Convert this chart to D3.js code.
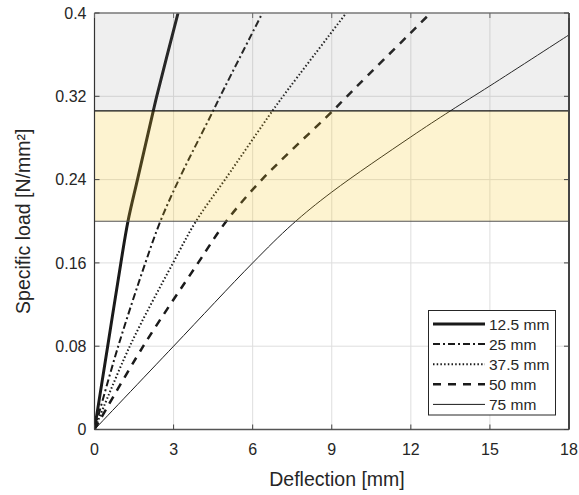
<!DOCTYPE html>
<html>
<head>
<meta charset="utf-8">
<script src="https://cdn.jsdelivr.net/npm/d3@7"></script>
<style>
  html, body { margin: 0; padding: 0; background: #fff; }
  svg { display: block; }
  text { font-family: "Liberation Sans", Arial, Helvetica, sans-serif; fill: #262626; }
</style>
</head>
<body>
<svg id="chart" width="579" height="495"></svg>
<script>
// ---- data ----
const seriesNames = ["12.5 mm", "25 mm", "37.5 mm", "50 mm", "75 mm"];
const defl_12_5 = [0, 0.50, 1.00, 1.27, 1.63, 2.23, 2.36, 3.17];
const load_12_5 = [0, 0.08, 0.16, 0.20, 0.24, 0.306, 0.32, 0.40];
const defl_25 = [0, 0.90, 1.93, 2.50, 3.20, 4.50, 4.77, 6.37];
const load_25 = [0, 0.08, 0.16, 0.20, 0.24, 0.306, 0.32, 0.40];
const defl_37_5 = [0, 1.34, 2.98, 3.85, 4.95, 6.75, 7.15, 9.55];
const load_37_5 = [0, 0.08, 0.16, 0.20, 0.24, 0.306, 0.32, 0.40];
const defl_50 = [0, 1.85, 3.93, 5.00, 6.35, 9.04, 9.58, 12.75];
const load_50 = [0, 0.08, 0.16, 0.20, 0.24, 0.306, 0.32, 0.40];
const defl_75 = [0, 3.0, 6.0, 7.5, 9.0, 12.0, 13.5, 15.0, 18.0];
const load_75 = [0, 0.08, 0.16, 0.197, 0.228, 0.281, 0.306, 0.330, 0.379];
const xTicks = [0, 3, 6, 9, 12, 15, 18];
const yTicks = [0, 0.08, 0.16, 0.24, 0.32, 0.4];
const yTickLabels = ["0", "0.08", "0.16", "0.24", "0.32", "0.4"];
const bandYellow = [0.2, 0.306];
const bandGrey = [0.306, 0.4];
const xLabel = "Deflection [mm]";
const yLabel = "Specific load [N/mm²]";

const seriesX = [defl_12_5, defl_25, defl_37_5, defl_50, defl_75];
const seriesY = [load_12_5, load_25, load_37_5, load_50, load_75];
const styles = [
  { w: 3,   dash: null },
  { w: 2,   dash: "7,3,2,3" },
  { w: 2,   dash: "1.5,2.2" },
  { w: 2.5, dash: "8,7" },
  { w: 1,   dash: null }
];

// ---- layout ----
const L = 94.5, R = 569, T = 13, B = 429.5;
const svg = d3.select("#chart");
const x = d3.scaleLinear().domain([0, 18]).range([L, R]);
const y = d3.scaleLinear().domain([0, 0.4]).range([B, T]);

svg.append("defs").append("clipPath").attr("id", "clip")
  .append("rect").attr("x", L).attr("y", T).attr("width", R - L).attr("height", B - T);

// grid
const grid = svg.append("g");
grid.selectAll("line.gx").data(xTicks.slice(1, -1)).join("line")
  .attr("x1", d => x(d)).attr("x2", d => x(d)).attr("y1", T).attr("y2", B)
  .attr("stroke", "#dedede").attr("stroke-width", 1);
grid.selectAll("line.gy").data(yTicks.slice(1, -1)).join("line")
  .attr("y1", d => y(d)).attr("y2", d => y(d)).attr("x1", L).attr("x2", R)
  .attr("stroke", "#dedede").attr("stroke-width", 1);

// curves
const line = d3.line().x(d => x(d[0])).y(d => y(d[1])).curve(d3.curveCatmullRom.alpha(0.5));
const curves = svg.append("g").attr("clip-path", "url(#clip)");
seriesX.forEach((xs, i) => {
  const pts = xs.map((v, j) => [v, seriesY[i][j]]);
  curves.append("path").datum(pts)
    .attr("d", line)
    .attr("fill", "none")
    .attr("stroke", "#1a1a1a")
    .attr("stroke-width", styles[i].w)
    .attr("stroke-dasharray", styles[i].dash)
    .attr("stroke-linejoin", "round");
});

// bands (semi-transparent, over curves)
svg.append("rect")
  .attr("x", L).attr("width", R - L)
  .attr("y", y(bandGrey[1])).attr("height", y(bandGrey[0]) - y(bandGrey[1]))
  .attr("fill", "rgb(128,128,128)").attr("fill-opacity", 0.13);
svg.append("rect")
  .attr("x", L).attr("width", R - L)
  .attr("y", y(bandYellow[1])).attr("height", y(bandYellow[0]) - y(bandYellow[1]))
  .attr("fill", "rgb(245,200,40)").attr("fill-opacity", 0.22);
svg.append("line").attr("x1", L).attr("x2", R)
  .attr("y1", y(bandYellow[1])).attr("y2", y(bandYellow[1]))
  .attr("stroke", "#111").attr("stroke-width", 1.2);
svg.append("line").attr("x1", L).attr("x2", R)
  .attr("y1", y(bandYellow[0])).attr("y2", y(bandYellow[0]))
  .attr("stroke", "#555").attr("stroke-width", 1.2);

// axes box
const ax = svg.append("g");
ax.append("line").attr("x1", L).attr("x2", R).attr("y1", B).attr("y2", B).attr("stroke", "#555").attr("stroke-width", 1.5);
ax.append("line").attr("x1", L).attr("x2", R).attr("y1", T).attr("y2", T).attr("stroke", "#777").attr("stroke-width", 1.5);
ax.append("line").attr("x1", L).attr("x2", L).attr("y1", T).attr("y2", B).attr("stroke", "#333").attr("stroke-width", 1.2);
ax.append("line").attr("x1", R).attr("x2", R).attr("y1", T).attr("y2", B).attr("stroke", "#444").attr("stroke-width", 2);

// ticks (inward, all sides)
const tl = 5;
xTicks.forEach(t => {
  ax.append("line").attr("x1", x(t)).attr("x2", x(t)).attr("y1", B).attr("y2", B - tl).attr("stroke", "#444");
  ax.append("line").attr("x1", x(t)).attr("x2", x(t)).attr("y1", T).attr("y2", T + tl).attr("stroke", "#666");
});
yTicks.forEach(t => {
  ax.append("line").attr("y1", y(t)).attr("y2", y(t)).attr("x1", L).attr("x2", L + tl).attr("stroke", "#444");
  ax.append("line").attr("y1", y(t)).attr("y2", y(t)).attr("x1", R).attr("x2", R - tl).attr("stroke", "#444");
});

// tick labels
svg.append("g").selectAll("text").data(xTicks).join("text")
  .attr("x", d => x(d)).attr("y", B + 25)
  .attr("text-anchor", "middle").attr("font-size", 16)
  .text(d => d3.format("d")(d));
svg.append("g").selectAll("text").data(yTicks).join("text")
  .attr("x", L - 8).attr("y", d => y(d)).attr("dy", "0.36em")
  .attr("text-anchor", "end").attr("font-size", 16)
  .text((d, i) => yTickLabels[i]);

// axis labels
svg.append("text").attr("x", 337).attr("y", 486)
  .attr("text-anchor", "middle").attr("font-size", 19.5).text(xLabel);
svg.append("text")
  .attr("transform", `translate(30,${(T + B) / 2}) rotate(-90)`)
  .attr("text-anchor", "middle").attr("font-size", 19.5).text(yLabel);

// legend
const lg = svg.append("g");
lg.append("rect").attr("x", 428.5).attr("y", 310.5).attr("width", 127).attr("height", 104.5)
  .attr("fill", "#fff").attr("stroke", "#262626").attr("stroke-width", 1);
seriesNames.forEach((name, i) => {
  const yy = 324 + i * 20.1;
  lg.append("line").attr("x1", 433).attr("x2", 485).attr("y1", yy).attr("y2", yy)
    .attr("stroke", "#1a1a1a").attr("stroke-width", styles[i].w)
    .attr("stroke-dasharray", styles[i].dash);
  lg.append("text").attr("x", 489).attr("y", yy).attr("dy", "0.36em")
    .attr("font-size", 15.5).text(name);
});
</script>
</body>
</html>
